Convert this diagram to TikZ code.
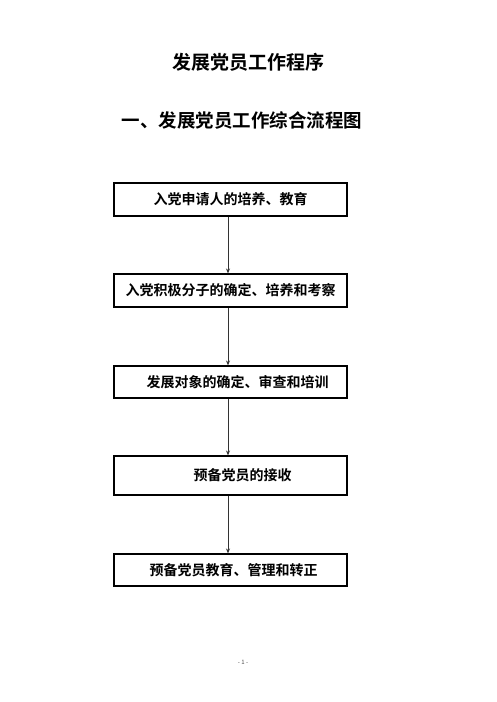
\documentclass[tikz,border=0pt]{standalone}
\usepackage{fontspec}
\setmainfont{Noto Sans CJK SC}[BoldFont={Noto Sans CJK SC Bold}]
\usetikzlibrary{arrows.meta}
\begin{document}
\begin{tikzpicture}[x=1pt,y=-1pt,
  stepbox/.style={draw=black, line width=1.1pt, minimum width=233pt, inner sep=0pt,
    font=\fontsize{14pt}{16pt}\selectfont\bfseries},
  flow/.style={draw=black!80, line width=0.8pt, -{Stealth[length=5pt,width=4pt]}},
  titletext/.style={font=\fontsize{19pt}{22pt}\selectfont\bfseries, inner sep=0pt}]
\useasboundingbox (0,0) rectangle (496,702);
\node[titletext] (t1) at (248,62) {发展党员工作程序};
\node[titletext, font=\fontsize{18.5pt}{22pt}\selectfont\bfseries] (t2) at (242,120) {一、发展党员工作综合流程图};
\node[stepbox, minimum height=33pt] (b1) at (230.5,199.5) {入党申请人的培养、教育};
\node[stepbox, minimum height=33pt] (b2) at (230.5,290.5) {入党积极分子的确定、培养和考察};
\node[stepbox, minimum height=32pt] (b3) at (230.5,382) {\hspace*{14pt}发展对象的确定、审查和培训};
\node[stepbox, minimum height=39pt] (b4) at (230.5,475.5) {\hspace*{24pt}预备党员的接收};
\node[stepbox, minimum height=32pt] (b5) at (230.5,570) {\hspace*{6pt}预备党员教育、管理和转正};
\draw[flow] ([xshift=-2.5pt]b1.south) -- ([xshift=-2.5pt]b2.north);
\draw[flow] ([xshift=-2.5pt]b2.south) -- ([xshift=-2.5pt]b3.north);
\draw[flow] ([xshift=-2.5pt]b3.south) -- ([xshift=-2.5pt]b4.north);
\draw[flow] ([xshift=-2.5pt]b4.south) -- ([xshift=-2.5pt]b5.north);
\node[font=\fontsize{6pt}{7pt}\selectfont, text=black!70, inner sep=0pt] (pg) at (243,662) {- 1 -};
\end{tikzpicture}
\end{document}
